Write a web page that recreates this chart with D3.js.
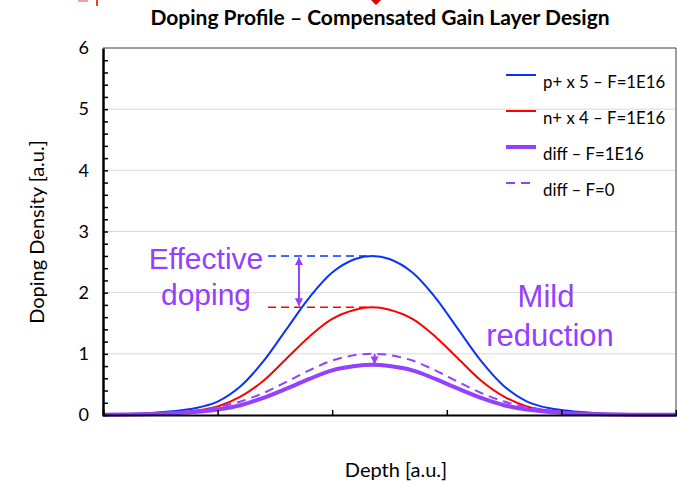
<!DOCTYPE html>
<html>
<head>
<meta charset="utf-8">
<script src="https://cdn.jsdelivr.net/npm/d3@7"></script>
<style>
  body { margin: 0; background: #fff; }
  svg { display: block; }
</style>
</head>
<body>
<script>
// depth positions [a.u.] and the four profiles
const depth   = [0, 0.4, 0.6, 0.8, 1.0, 1.2, 1.4, 1.6, 1.8, 2.0, 2.2, 2.35, 2.5, 2.7, 2.9, 3.1, 3.3, 3.5, 3.7, 3.9, 4.3, 4.7, 5.0];
const pPlus   = [0.01, 0.03, 0.06, 0.11, 0.22, 0.47, 0.88, 1.40, 1.92, 2.33, 2.55, 2.60, 2.55, 2.33, 1.92, 1.40, 0.88, 0.47, 0.22, 0.11, 0.03, 0.01, 0.005];
const nPlus   = [0.006, 0.02, 0.04, 0.07, 0.14, 0.30, 0.56, 0.92, 1.28, 1.57, 1.72, 1.76, 1.72, 1.57, 1.28, 0.92, 0.56, 0.30, 0.14, 0.07, 0.02, 0.006, 0.003];
const diffF   = [0.005, 0.015, 0.03, 0.05, 0.09, 0.16, 0.28, 0.43, 0.59, 0.73, 0.80, 0.82, 0.80, 0.73, 0.59, 0.43, 0.28, 0.16, 0.09, 0.05, 0.015, 0.005, 0.003];
const diff0   = [0.006, 0.02, 0.04, 0.07, 0.13, 0.22, 0.36, 0.54, 0.73, 0.89, 0.98, 1.00, 0.98, 0.89, 0.73, 0.54, 0.36, 0.22, 0.13, 0.07, 0.02, 0.006, 0.003];

const yTicks = [0, 1, 2, 3, 4, 5, 6];
const xTicks = [1, 2, 3, 4];
const legendNames = ['p+ x 5 \u2013 F=1E16', 'n+ x 4 \u2013 F=1E16', 'diff \u2013 F=1E16', 'diff \u2013 F=0'];

const w = 677, h = 482;
const purple = '#9340ff';

const series = [
  { name: legendNames[0], values: pPlus, color: '#0a32ff', width: 2, dash: null },
  { name: legendNames[1], values: nPlus, color: '#ff0000', width: 2, dash: null },
  { name: legendNames[2], values: diffF, color: purple, width: 4, dash: null },
  { name: legendNames[3], values: diff0, color: purple, width: 2, dash: '9,6' }
];

const x = d3.scaleLinear().domain([0, 5]).range([103, 676]);
const y = d3.scaleLinear().domain([0, 6]).range([415, 48]);

const svg = d3.select('body').append('svg').attr('width', w).attr('height', h);

// cut-off red marks at the very top
svg.append('path').attr('d', 'M371,0 L381,0 L376,5 Z').attr('fill', '#e00000');
svg.append('line').attr('x1', 97).attr('x2', 97).attr('y1', 0).attr('y2', 6).attr('stroke', '#e00000').attr('stroke-width', 1.5);
svg.append('line').attr('x1', 78).attr('x2', 88).attr('y1', 1).attr('y2', 1).attr('stroke', '#f2a0a0').attr('stroke-width', 2);

// grid
svg.append('g').selectAll('line').data(yTicks.slice(1, 6)).enter().append('line')
  .attr('x1', x(0)).attr('x2', x(5))
  .attr('y1', d => y(d)).attr('y2', d => y(d))
  .attr('stroke', '#d9d9d9').attr('stroke-width', 1);

// frame top + right
svg.append('path')
  .attr('d', `M${x(0)},${y(6)} H${x(5)} V${y(0)}`)
  .attr('fill', 'none').attr('stroke', '#404040').attr('stroke-width', 1);

// curves
const line = d3.line().x((d, i) => x(depth[i])).y(d => y(d)).curve(d3.curveCatmullRom.alpha(0.5));
series.forEach(s => {
  svg.append('path').datum(s.values)
    .attr('d', line)
    .attr('fill', 'none')
    .attr('stroke', s.color)
    .attr('stroke-width', s.width)
    .attr('stroke-dasharray', s.dash);
});

// axes
const minor = d3.range(0, 30).map(i => i / 5);
svg.append('g').attr('transform', `translate(${x(0)},0)`)
  .call(d3.axisLeft(y).tickValues(minor).tickSize(-5).tickFormat(''))
  .call(g => g.selectAll('line').attr('stroke', '#000').attr('stroke-width', 1.5))
  .call(g => g.select('.domain').remove());

const yAxis = svg.append('g').attr('transform', `translate(${x(0)},0)`)
  .call(d3.axisLeft(y).tickValues(yTicks).tickSize(0).tickPadding(14).tickFormat(d3.format('d')));
yAxis.select('.domain').attr('stroke', '#000').attr('stroke-width', 2.5);
yAxis.selectAll('text').style('font-family', 'Lato').style('font-size', '18px').attr('fill', '#000');

const xAxis = svg.append('g').attr('transform', `translate(0,${y(0)})`)
  .call(d3.axisBottom(x).tickValues(xTicks).tickSize(-5).tickFormat(''));
xAxis.select('.domain').attr('stroke', '#000').attr('stroke-width', 2);
xAxis.selectAll('line').attr('stroke', '#000').attr('stroke-width', 1.5);

// titles
svg.append('text').attr('x', 380).attr('y', 25).attr('text-anchor', 'middle')
  .style('font-family', 'Lato').style('font-weight', 'bold').style('font-size', '21px')
  .text('Doping Profile \u2013 Compensated Gain Layer Design');

svg.append('text').attr('x', 396).attr('y', 477).attr('text-anchor', 'middle')
  .style('font-family', 'Lato').style('font-size', '20px')
  .text('Depth [a.u.]');

svg.append('text').attr('transform', 'translate(44,232) rotate(-90)').attr('text-anchor', 'middle')
  .style('font-family', 'Lato').style('font-size', '20px')
  .text('Doping Density [a.u.]');

// legend
const lg = svg.append('g');
const rowsY = [75, 111, 147, 183];
series.forEach((s, i) => {
  lg.append('line').attr('x1', 506).attr('x2', s.dash ? 533 : 536)
    .attr('y1', rowsY[i]).attr('y2', rowsY[i])
    .attr('stroke', s.color).attr('stroke-width', s.width)
    .attr('stroke-dasharray', s.dash);
  lg.append('text').attr('x', 543).attr('y', rowsY[i] + 13)
    .style('font-family', 'Lato').style('font-size', '16.8px')
    .text(s.name);
});

// annotations
const ann = svg.append('g');
ann.append('line').attr('x1', x(1.44)).attr('x2', x(2.32)).attr('y1', y(2.6)).attr('y2', y(2.6))
  .attr('stroke', '#0a32ff').attr('stroke-width', 1.5).attr('stroke-dasharray', '8,5');
ann.append('line').attr('x1', x(1.44)).attr('x2', x(2.32)).attr('y1', y(1.76)).attr('y2', y(1.76))
  .attr('stroke', '#ff0000').attr('stroke-width', 1.5).attr('stroke-dasharray', '8,5');

const defs = svg.append('defs');
defs.append('marker').attr('id', 'ah').attr('viewBox', '0 0 10 10').attr('refX', 9).attr('refY', 5)
  .attr('markerWidth', 4).attr('markerHeight', 4).attr('orient', 'auto-start-reverse')
  .append('path').attr('d', 'M0,0 L10,5 L0,10 Z').attr('fill', purple);

ann.append('line').attr('x1', x(1.71)).attr('x2', x(1.71)).attr('y1', y(2.57)).attr('y2', y(1.79))
  .attr('stroke', purple).attr('stroke-width', 2)
  .attr('marker-start', 'url(#ah)').attr('marker-end', 'url(#ah)');
ann.append('line').attr('x1', x(2.37)).attr('x2', x(2.37)).attr('y1', y(1.0)).attr('y2', y(0.84))
  .attr('stroke', purple).attr('stroke-width', 2)
  .attr('marker-end', 'url(#ah)');

const bigText = (t, cx, by, size) => ann.append('text').attr('x', cx).attr('y', by)
  .attr('text-anchor', 'middle').attr('fill', purple)
  .style('font-family', 'Liberation Sans').style('font-size', size + 'px').text(t);
bigText('Effective', 206, 269, 30);
bigText('doping', 206, 305, 30);
bigText('Mild', 546, 307, 31);
bigText('reduction', 550, 346, 31);
</script>
</body>
</html>
